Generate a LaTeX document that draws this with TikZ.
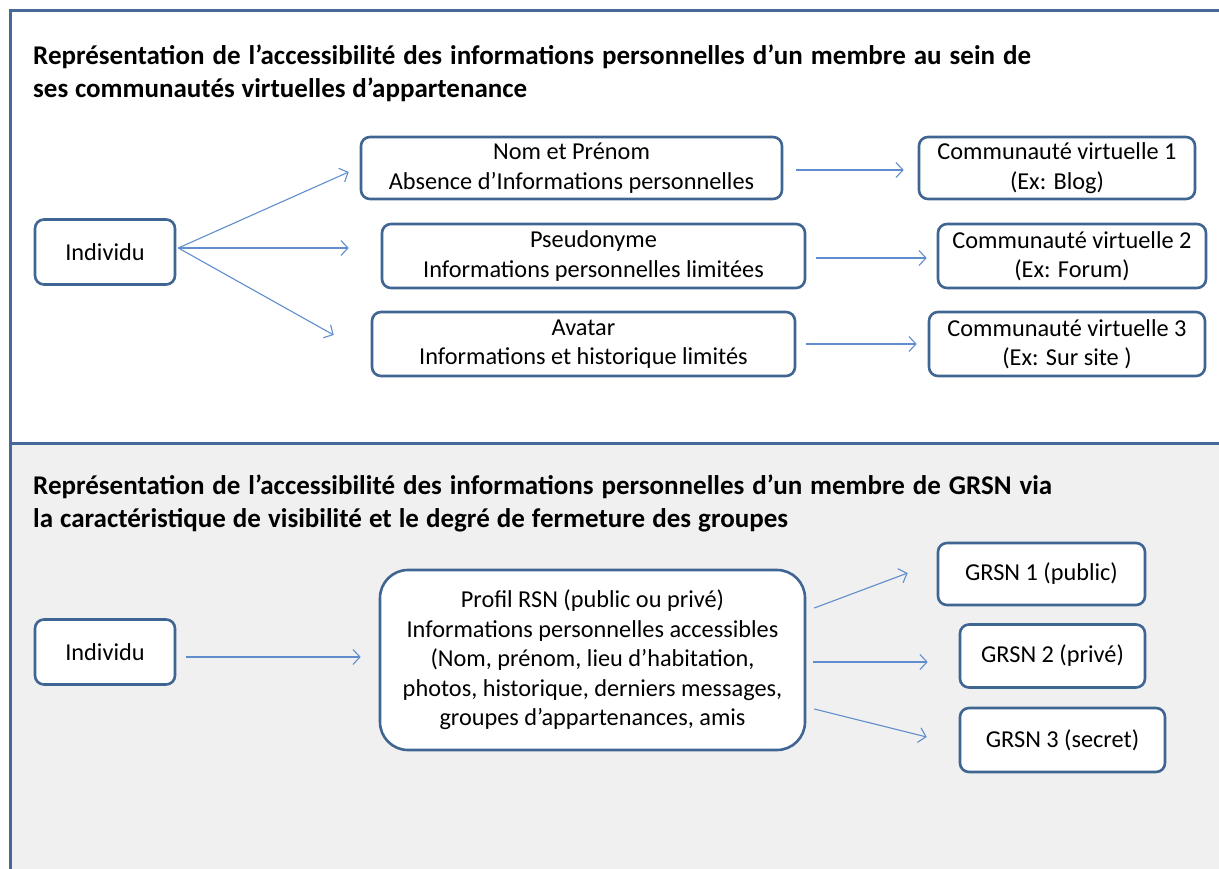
\documentclass[tikz,border=0pt]{standalone}
\usepackage{fontspec}
\setmainfont{Carlito}
\usetikzlibrary{arrows.meta,calc}
\definecolor{boxblue}{HTML}{3F6592}
\definecolor{arrowblue}{HTML}{5F8DCE}
\definecolor{framebl}{HTML}{46699A}
\definecolor{lowbg}{HTML}{F0F0F0}
\newcommand{\ttlline}[2]{\makebox[#1][s]{#2}}
\begin{document}
\begin{tikzpicture}[x=1pt,y=-1pt,
  box/.style={draw=boxblue, line width=2.6pt, rounded corners=9pt, fill=white,
    align=center, inner sep=0pt, font=\fontsize{24.3}{29.5}\selectfont},
  bigbox/.style={box, rounded corners=28pt},
  arr/.style={draw=arrowblue, line width=1.1pt, -{Straight Barb[length=7pt,width=15pt]}},
  ttl/.style={anchor=base west, inner sep=0pt, font=\fontsize{27}{33}\selectfont\bfseries}]
\useasboundingbox (0,0) rectangle (1219,869);
% backgrounds and frame
\fill[lowbg] (10,443) rectangle (1219,869);
\draw[framebl, line width=3pt] (1219,11) -- (10,11) -- (10,869);
\draw[framebl, line width=3pt] (10,443) -- (1219,443);
% titles
\node[ttl] (t1) at (33,65) {\ttlline{998pt}{Représentation de l’accessibilité des informations personnelles d’un membre au sein de}};
\node[ttl] (t2) at (33,98) {\ttlline{494pt}{ses communautés virtuelles d’appartenance}};
\node[ttl] (t3) at (33,494) {\ttlline{1019pt}{Représentation de l’accessibilité des informations personnelles d’un membre de GRSN via}};
\node[ttl] (t4) at (33,527) {\ttlline{755pt}{la caractéristique de visibilité et le degré de fermeture des groupes}};
% top section
\node[box, minimum width=140pt, minimum height=65pt] (ind) at (105,252) {Individu};
\node[box, minimum width=421pt, minimum height=62pt] (n1) at (571.5,168) {Nom et Prénom\\Absence d’Informations personnelles};
\node[box, minimum width=423pt, minimum height=64pt] (n2) at (593.5,256) {Pseudonyme\\Informations personnelles limitées};
\node[box, minimum width=423pt, minimum height=64pt] (n3) at (583.5,344) {Avatar\\Informations et historique limités};
\node[box, minimum width=276pt, minimum height=62pt] (c1) at (1057,168) {Communauté virtuelle 1\\(Ex: Blog)};
\node[box, minimum width=268pt, minimum height=64pt] (c2) at (1072,256) {Communauté virtuelle 2\\(Ex: Forum)};
\node[box, minimum width=276pt, minimum height=64pt] (c3) at (1067,344) {Communauté virtuelle 3\\(Ex: Sur site )};
\coordinate (o) at ($(ind.east)+(2,-4)$);
\draw[arr] (o) -- ($(n1.west)+(-11,4)$);
\draw[arr] (o) -- ($(n2.west)+(-32,-8)$);
\draw[arr] (o) -- ($(n3.west)+(-37,-9)$);
\draw[arr] ($(n1.east)+(13,2)$) -- ($(c1.west)+(-14,2)$);
\draw[arr] ($(n2.east)+(10,2)$) -- ($(c2.west)+(-10,2)$);
\draw[arr] ($(n3.east)+(10,0)$) -- ($(c3.west)+(-11,0)$);
% bottom section
\node[box, minimum width=140pt, minimum height=65pt] (ind2) at (105,652) {Individu};
\node[bigbox, minimum width=425pt, minimum height=180pt] (pr) at (592.5,660) {Profil RSN (public ou privé)\\Informations personnelles accessibles\\(Nom, prénom, lieu d’habitation,\\photos, historique, derniers messages,\\groupes d’appartenances, amis};
\node[box, minimum width=207pt, minimum height=62pt] (g1) at (1041.5,574) {GRSN 1 (public)};
\node[box, minimum width=185pt, minimum height=63pt] (g2) at (1052.5,656) {GRSN 2 (privé)};
\node[box, minimum width=205pt, minimum height=64pt] (g3) at (1062.5,740) {GRSN 3 (secret)};
\draw[arr] ($(ind2.east)+(10,5)$) -- ($(pr.west)+(-18,-3)$);
\draw[arr] ($(pr.east)+(8,-52)$) -- ($(g1.west)+(-29,-1)$);
\draw[arr] ($(pr.east)+(7,2)$) -- ($(g2.west)+(-31,6)$);
\draw[arr] ($(pr.east)+(8,49)$) -- ($(g3.west)+(-32,-3)$);
\end{tikzpicture}
\end{document}
